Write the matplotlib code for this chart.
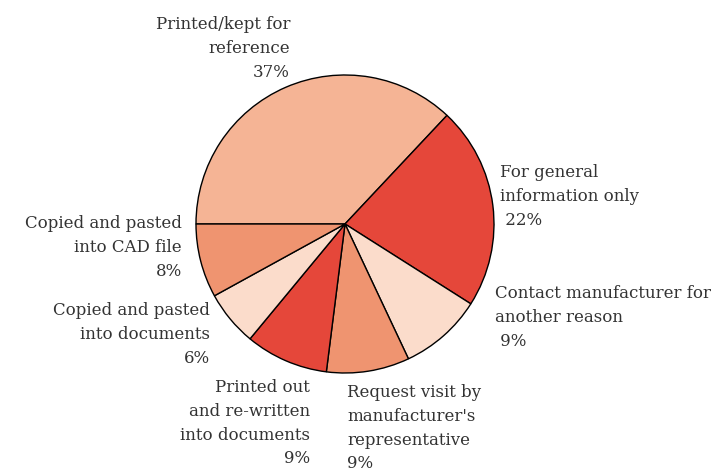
import matplotlib
matplotlib.use("Agg")
from matplotlib import pyplot as plt

matplotlib.rcParams['font.family'] = "DejaVu Serif"

# share of responses, clockwise from 9 o'clock
labels = ["Printed/kept for\nreference",
          "For general\ninformation only",
          "Contact manufacturer for\nanother reason",
          "Request visit by\nmanufacturer's\nrepresentative",
          "Printed out\nand re-written\ninto documents",
          "Copied and pasted\ninto documents",
          "Copied and pasted\ninto CAD file"]
shares = [37, 22, 9, 9, 9, 6, 8]

slice_colors = ["#F5B495", "#E5473A", "#FBDCCB", "#EF9470",
                "#E5473A", "#FBDCCB", "#EF9470"]

# label anchors (pixel space, y from top) and alignment
label_pos = [(290, 16, 'right', ''),
             (500, 164, 'left', ' '),
             (495, 285, 'left', ' '),
             (347, 384, 'left', ''),
             (310, 379, 'right', ''),
             (210, 302, 'right', ''),
             (182, 215, 'right', '')]

W, H = 713, 469
fig = plt.figure(figsize=(W / 100, H / 100), dpi=100)
ax = fig.add_axes([0, 0, 1, 1])

ax.pie(shares, colors=slice_colors, startangle=180, counterclock=False,
       center=(345, H - 224), radius=149,
       wedgeprops=dict(edgecolor='black', linewidth=1.0))

for lab, val, (x, y, ha, pad) in zip(labels, shares, label_pos):
    ax.text(x, H - y, lab + "\n" + pad + "%d%%" % val, ha=ha, va='top',
            multialignment=ha, fontsize=12, color='#333333',
            linespacing=1.52)

ax.set_xlim(0, W)
ax.set_ylim(0, H)
ax.set_aspect('equal')
ax.axis('off')

plt.savefig("out.png", dpi=100)
